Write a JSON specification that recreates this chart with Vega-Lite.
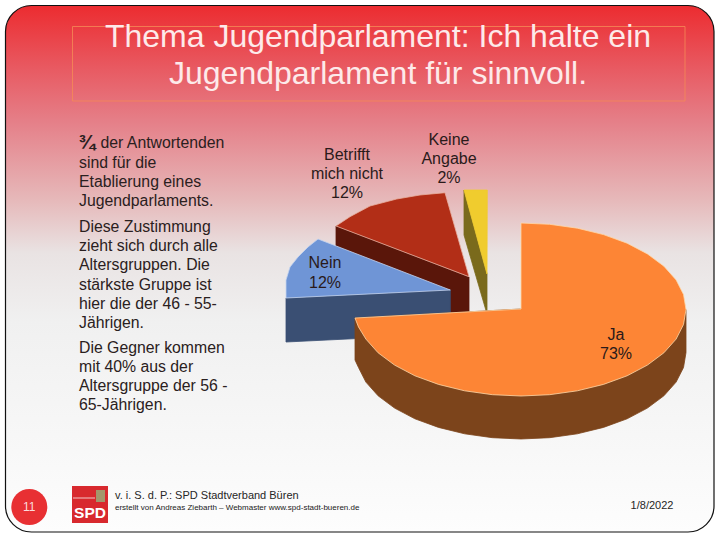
{
"$schema":"https://vega.github.io/schema/vega-lite/v6.json",
"width":720,"height":540,"padding":0,
"autosize":{"type":"fit","contains":"padding"},
"background":"#ffffff",
"config":{"view":{"stroke":null}},
"datasets":{
"slide":[{"x":5.5,"x2":714,"y":5.5,"y2":532}],
"titlebox":[{"x":72.5,"x2":685,"y":26.5,"y2":101}],
"logo":[{"x":72,"x2":108,"y":486,"y2":523}],
"logoband":[{"x":73,"x2":95,"y":497.5,"y2":498.5}],
"logoarms":[{"x":96,"x2":105,"y":490,"y2":502}],
"badge":[{"x":29.3,"y":507}],
"pie":[
{"part":"Betrifft side","i":0,"x":336,"y":226},{"part":"Betrifft side","i":1,"x":469,"y":277},{"part":"Betrifft side","i":2,"x":469,"y":320},{"part":"Betrifft side","i":3,"x":336,"y":269},
{"part":"Betrifft top","i":0,"x":469,"y":276.7},{"part":"Betrifft top","i":1,"x":336,"y":226},{"part":"Betrifft top","i":2,"x":350,"y":216.7},{"part":"Betrifft top","i":3,"x":370,"y":206},{"part":"Betrifft top","i":4,"x":396.7,"y":199},{"part":"Betrifft top","i":5,"x":420,"y":195},{"part":"Betrifft top","i":6,"x":445,"y":192.7},
{"part":"Nein side","i":0,"x":286,"y":298},{"part":"Nein side","i":1,"x":450.3,"y":290},{"part":"Nein side","i":2,"x":450.3,"y":334},{"part":"Nein side","i":3,"x":286,"y":342},
{"part":"Nein top","i":0,"x":450.3,"y":290},{"part":"Nein top","i":1,"x":286,"y":298},{"part":"Nein top","i":2,"x":286,"y":280},{"part":"Nein top","i":3,"x":290,"y":267},{"part":"Nein top","i":4,"x":298,"y":257},{"part":"Nein top","i":5,"x":308,"y":247},{"part":"Nein top","i":6,"x":318,"y":239},
{"part":"Keine side","i":0,"x":464,"y":190},{"part":"Keine side","i":1,"x":487,"y":274},{"part":"Keine side","i":2,"x":487,"y":314},{"part":"Keine side","i":3,"x":464,"y":235},
{"part":"Keine top","i":0,"x":464,"y":190},{"part":"Keine top","i":1,"x":487.3,"y":190},{"part":"Keine top","i":2,"x":487,"y":274},
{"part":"Ja side","i":0,"x":686,"y":309.5},{"part":"Ja side","i":1,"x":686,"y":352.5},{"part":"Ja side","i":2,"x":683.5,"y":367.5},{"part":"Ja side","i":3,"x":676.1,"y":382.1},{"part":"Ja side","i":4,"x":663.9,"y":395.8},{"part":"Ja side","i":5,"x":647.4,"y":408.1},{"part":"Ja side","i":6,"x":627.1,"y":418.8},{"part":"Ja side","i":7,"x":603.5,"y":427.4},{"part":"Ja side","i":8,"x":577.4,"y":433.8},{"part":"Ja side","i":9,"x":549.6,"y":437.7},{"part":"Ja side","i":10,"x":521,"y":439},{"part":"Ja side","i":11,"x":492.4,"y":437.7},{"part":"Ja side","i":12,"x":464.6,"y":433.8},{"part":"Ja side","i":13,"x":438.5,"y":427.4},{"part":"Ja side","i":14,"x":414.9,"y":418.8},{"part":"Ja side","i":15,"x":394.6,"y":408.1},{"part":"Ja side","i":16,"x":378.1,"y":395.8},{"part":"Ja side","i":17,"x":365.9,"y":382.1},{"part":"Ja side","i":18,"x":358.5,"y":367.5},{"part":"Ja side","i":19,"x":355,"y":360},{"part":"Ja side","i":20,"x":355,"y":318},{"part":"Ja side","i":21,"x":521,"y":309},
{"part":"Ja top","i":0,"x":521,"y":309},{"part":"Ja top","i":1,"x":521,"y":223},{"part":"Ja top","i":2,"x":549.6,"y":224.3},{"part":"Ja top","i":3,"x":577.4,"y":228.2},{"part":"Ja top","i":4,"x":603.5,"y":234.6},{"part":"Ja top","i":5,"x":627.1,"y":243.2},{"part":"Ja top","i":6,"x":647.4,"y":253.9},{"part":"Ja top","i":7,"x":663.9,"y":266.2},{"part":"Ja top","i":8,"x":676.1,"y":279.9},{"part":"Ja top","i":9,"x":683.5,"y":294.5},{"part":"Ja top","i":10,"x":686,"y":309.5},{"part":"Ja top","i":11,"x":683.5,"y":324.5},{"part":"Ja top","i":12,"x":676.1,"y":339.1},{"part":"Ja top","i":13,"x":663.9,"y":352.8},{"part":"Ja top","i":14,"x":647.4,"y":365.1},{"part":"Ja top","i":15,"x":627.1,"y":375.8},{"part":"Ja top","i":16,"x":603.5,"y":384.4},{"part":"Ja top","i":17,"x":577.4,"y":390.8},{"part":"Ja top","i":18,"x":549.6,"y":394.7},{"part":"Ja top","i":19,"x":521,"y":396},{"part":"Ja top","i":20,"x":492.4,"y":394.7},{"part":"Ja top","i":21,"x":464.6,"y":390.8},{"part":"Ja top","i":22,"x":438.5,"y":384.4},{"part":"Ja top","i":23,"x":414.9,"y":375.8},{"part":"Ja top","i":24,"x":394.6,"y":365.1},{"part":"Ja top","i":25,"x":378.1,"y":352.8},{"part":"Ja top","i":26,"x":365.9,"y":339.1},{"part":"Ja top","i":27,"x":358.5,"y":327},{"part":"Ja top","i":28,"x":355,"y":318}
],
"titletext":[{"text":"Thema Jugendparlament: Ich halte ein","x":378,"y":37},{"text":"Jugendparlament für sinnvoll.","x":378,"y":74}],
"fraction":[{"text":"¾","x":78.5,"y":143}],
"body":[
{"text":"der Antwortenden","x":100.5,"y":143},{"text":"sind für die","x":79,"y":163},{"text":"Etablierung eines","x":79,"y":182},{"text":"Jugendparlaments.","x":79,"y":201},
{"text":"Diese Zustimmung","x":79,"y":227},{"text":"zieht sich durch alle","x":79,"y":246},{"text":"Altersgruppen. Die","x":79,"y":265},{"text":"stärkste Gruppe ist","x":79,"y":285},{"text":"hier die der 46 - 55-","x":79,"y":304},{"text":"Jährigen.","x":79,"y":323},
{"text":"Die Gegner kommen","x":79,"y":348},{"text":"mit 40% aus der","x":79,"y":367},{"text":"Altersgruppe der 56 -","x":79,"y":386},{"text":"65-Jährigen.","x":79,"y":405}],
"labels":[
{"text":"Betrifft","x":347,"y":155},{"text":"mich nicht","x":347,"y":174},{"text":"12%","x":347,"y":193},
{"text":"Keine","x":449,"y":140},{"text":"Angabe","x":449,"y":159},{"text":"2%","x":449,"y":178},
{"text":"Nein","x":325,"y":263},{"text":"12%","x":325,"y":283},
{"text":"Ja","x":616,"y":335},{"text":"73%","x":616,"y":354}],
"footer1":[{"text":"v. i. S. d. P.: SPD Stadtverband Büren","x":115,"y":496}],
"footer2":[{"text":"erstellt von Andreas Ziebarth – Webmaster www.spd-stadt-bueren.de","x":115,"y":508}],
"pageno":[{"text":"11","x":29.3,"y":507}],
"spd":[{"text":"SPD","x":90,"y":513}],
"date":[{"text":"1/8/2022","x":652,"y":506}]
},
"encoding":{
"x":{"field":"x","type":"quantitative","axis":null,"scale":{"domain":[0,720],"nice":false,"zero":false}},
"y":{"field":"y","type":"quantitative","axis":null,"scale":{"domain":[540,0],"nice":false,"zero":false}}
},
"layer":[
{"data":{"name":"slide"},"mark":{"type":"rect","cornerRadius":26,"stroke":"#111111","strokeWidth":1.2,
"fill":{"gradient":"linear","x1":0,"y1":0,"x2":0,"y2":1,"stops":[{"offset":0,"color":"#ec2c30"},{"offset":0.12,"color":"#e85a62"},{"offset":0.22,"color":"#e57f88"},{"offset":0.37,"color":"#e6b9ba"},{"offset":0.47,"color":"#e9e3e3"},{"offset":0.6,"color":"#f0f0f0"},{"offset":1,"color":"#fdfdfd"}]}},
"encoding":{"x2":{"field":"x2"},"y2":{"field":"y2"}}},
{"data":{"name":"titlebox"},"mark":{"type":"rect","fill":null,"stroke":"#f58a55","strokeWidth":0.8},"encoding":{"x2":{"field":"x2"},"y2":{"field":"y2"}}},
{"data":{"name":"pie"},"mark":{"type":"line","interpolate":"linear-closed","strokeWidth":0.8},
"encoding":{"order":{"field":"i","type":"quantitative"},
"fill":{"field":"part","type":"nominal","legend":null,"scale":{"domain":["Betrifft side","Betrifft top","Nein side","Nein top","Keine side","Keine top","Ja side","Ja top"],"range":["#5a160a","#b22e17","#3a4f73","#6f95d6","#7a6a1c","#f0cc2e","#7c441b","#fd8535"]}},
"stroke":{"field":"part","type":"nominal","legend":null,"scale":{"domain":["Betrifft side","Betrifft top","Nein side","Nein top","Keine side","Keine top","Ja side","Ja top"],"range":["#5a160a","#e8b0a0","#3a4f73","#c4d4f0","#7a6a1c","#f0cc2e","#7c441b","#ffd8a8"]}}}},
{"data":{"name":"titletext"},"mark":{"type":"text","align":"center","baseline":"middle","font":"Liberation Sans","fontSize":32,"fill":"#fdeaea"},"encoding":{"text":{"field":"text"}}},
{"data":{"name":"fraction"},"mark":{"type":"text","align":"left","baseline":"middle","font":"Liberation Sans","fontSize":20,"fontWeight":"bold","fill":"#2a2020"},"encoding":{"text":{"field":"text"}}},
{"data":{"name":"body"},"mark":{"type":"text","align":"left","baseline":"middle","font":"Liberation Sans","fontSize":15.8,"fill":"#2a2020"},"encoding":{"text":{"field":"text"}}},
{"data":{"name":"labels"},"mark":{"type":"text","align":"center","baseline":"middle","font":"Liberation Sans","fontSize":16,"fill":"#2a1a1a"},"encoding":{"text":{"field":"text"}}},
{"data":{"name":"badge"},"mark":{"type":"point","shape":"circle","filled":true,"size":1296,"opacity":1,"color":"#e83033"}},
{"data":{"name":"pageno"},"mark":{"type":"text","align":"center","baseline":"middle","font":"Liberation Sans","fontSize":12,"fill":"#fbdcdc"},"encoding":{"text":{"field":"text"}}},
{"data":{"name":"logo"},"mark":{"type":"rect","fill":"#d8292e"},"encoding":{"x2":{"field":"x2"},"y2":{"field":"y2"}}},
{"data":{"name":"logoband"},"mark":{"type":"rect","fill":"#f2c9c9"},"encoding":{"x2":{"field":"x2"},"y2":{"field":"y2"}}},
{"data":{"name":"logoarms"},"mark":{"type":"rect","fill":"#a3976c"},"encoding":{"x2":{"field":"x2"},"y2":{"field":"y2"}}},
{"data":{"name":"spd"},"mark":{"type":"text","align":"center","baseline":"middle","font":"Liberation Sans","fontSize":15.5,"fontWeight":"bold","fill":"#ffffff"},"encoding":{"text":{"field":"text"}}},
{"data":{"name":"footer1"},"mark":{"type":"text","align":"left","baseline":"middle","font":"Liberation Sans","fontSize":11,"fill":"#262626"},"encoding":{"text":{"field":"text"}}},
{"data":{"name":"footer2"},"mark":{"type":"text","align":"left","baseline":"middle","font":"Liberation Sans","fontSize":8,"fill":"#1a1a1a"},"encoding":{"text":{"field":"text"}}},
{"data":{"name":"date"},"mark":{"type":"text","align":"center","baseline":"middle","font":"Liberation Sans","fontSize":11,"fill":"#262626"},"encoding":{"text":{"field":"text"}}}
]
}
